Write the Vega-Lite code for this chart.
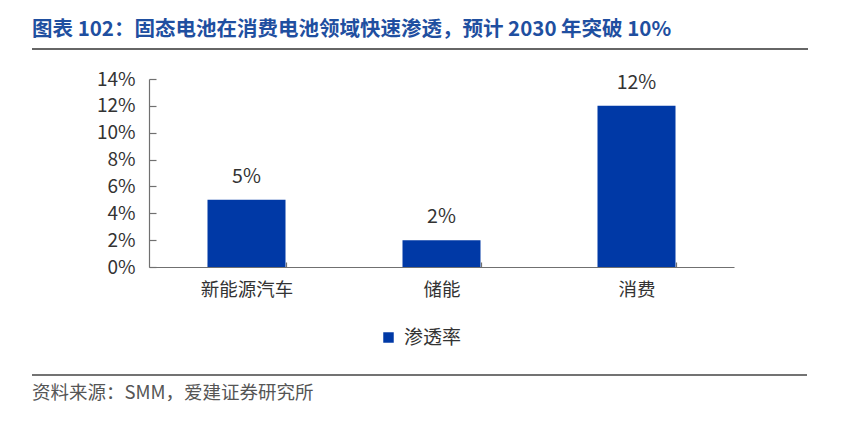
{
  "$schema": "https://vega.github.io/schema/vega-lite/v6.json",
  "autosize": {"type": "none"},
  "width": 585,
  "height": 188,
  "padding": {"left": 149, "top": 79, "right": 118, "bottom": 162},
  "background": "white",
  "config": {
    "view": {"stroke": null},
    "font": "Noto Sans CJK SC",
    "axis": {"labelFont": "Noto Sans CJK SC", "titleFont": "Noto Sans CJK SC", "labelOverlap": false},
    "legend": {"labelFont": "Noto Sans CJK SC"}
  },
  "title": {
    "text": "图表 102：固态电池在消费电池领域快速渗透，预计 2030 年突破 10%",
    "anchor": "start",
    "frame": "group",
    "dx": -117,
    "offset": 8,
    "fontSize": 20.5,
    "fontWeight": "bold",
    "color": "#1F4FA0",
    "font": "Noto Sans CJK SC"
  },
  "data": {
    "values": [
      {"category": "新能源汽车", "value": 0.05, "series": "渗透率"},
      {"category": "储能", "value": 0.02, "series": "渗透率"},
      {"category": "消费", "value": 0.12, "series": "渗透率"}
    ]
  },
  "encoding": {
    "x": {
      "field": "category",
      "type": "nominal",
      "sort": null,
      "scale": {"paddingInner": 0.6, "paddingOuter": 0.3},
      "axis": {
        "title": null,
        "labelAngle": 0,
        "labelFontSize": 18.5,
        "labelColor": "#333333",
        "labelPadding": 18,
        "domainColor": "#707070",
        "domainWidth": 1.2,
        "tickColor": "#707070",
        "tickBand": "extent",
        "tickSize": -5,
        "tickWidth": 1.2
      }
    },
    "y": {
      "field": "value",
      "type": "quantitative",
      "scale": {"domain": [0, 0.14], "nice": false},
      "axis": {
        "title": null,
        "format": ".0%",
        "values": [0, 0.02, 0.04, 0.06, 0.08, 0.1, 0.12, 0.14],
        "labelOverlap": false,
        "labelFlush": false,
        "grid": false,
        "labelFontSize": 19,
        "labelColor": "#333333",
        "labelPadding": 21,
        "domainColor": "#707070",
        "domainWidth": 1.2,
        "tickColor": "#707070",
        "tickSize": -7,
        "tickWidth": 1.2
      }
    }
  },
  "layer": [
    {
      "mark": {"type": "bar"},
      "encoding": {
        "color": {
          "field": "series",
          "type": "nominal",
          "scale": {"range": ["#0039A6"]},
          "legend": {
            "title": null,
            "orient": "none",
            "legendX": 230,
            "legendY": 249,
            "symbolType": "square",
            "symbolSize": 110,
            "labelFontSize": 19,
            "labelColor": "#333333",
            "labelOffset": 6
          }
        }
      }
    },
    {
      "mark": {"type": "text", "baseline": "alphabetic", "dy": -17, "fontSize": 19.5, "color": "#333333"},
      "encoding": {
        "text": {"field": "value", "type": "quantitative", "format": ".0%"}
      }
    },
    {
      "data": {"values": [{"line": "top"}]},
      "mark": {"type": "rule", "color": "#333333", "strokeWidth": 1.6},
      "encoding": {
        "x": {"value": -117},
        "x2": {"value": 659},
        "y": {"value": -30}
      }
    },
    {
      "data": {"values": [{"line": "bottom"}]},
      "mark": {"type": "rule", "color": "#444444", "strokeWidth": 1.6},
      "encoding": {
        "x": {"value": -117},
        "x2": {"value": 658},
        "y": {"value": 296}
      }
    },
    {
      "data": {"values": [{"source": "资料来源：SMM，爱建证券研究所"}]},
      "mark": {"type": "text", "align": "left", "baseline": "alphabetic", "fontSize": 18.5, "color": "#555555"},
      "encoding": {
        "text": {"field": "source", "type": "nominal"},
        "x": {"value": -117},
        "y": {"value": 320}
      }
    }
  ]
}
